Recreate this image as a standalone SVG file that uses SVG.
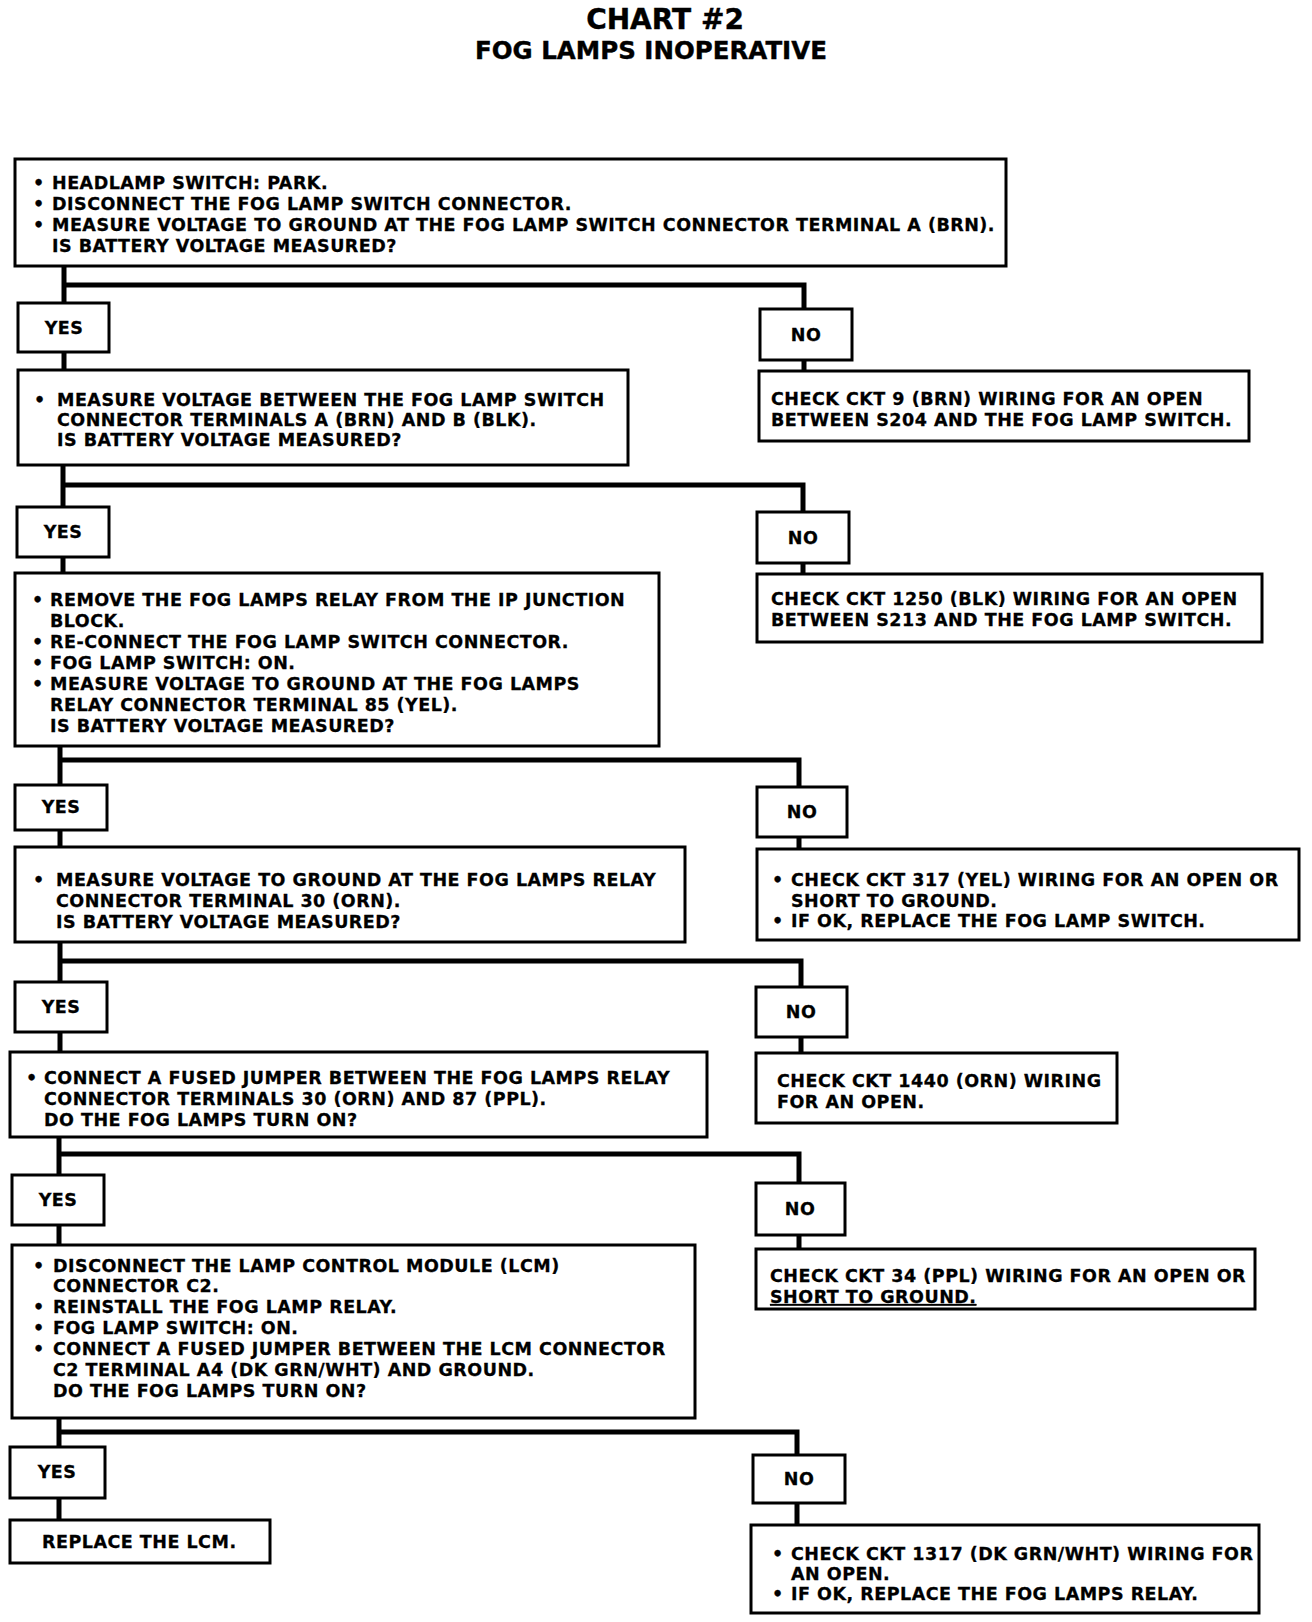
<svg xmlns="http://www.w3.org/2000/svg" width="1312" height="1622" viewBox="0 0 1312 1622">
<style>
.bg{fill:#fff}
.box{fill:#fff;stroke:#000;stroke-width:3}
.conn{fill:none;stroke:#000;stroke-width:5;stroke-linejoin:miter;stroke-linecap:butt}
.t{font-family:"DejaVu Sans","Liberation Sans",Arial,sans-serif;font-weight:bold;font-size:17.5px;letter-spacing:0.5px;fill:#000;stroke:#000;stroke-width:0.3px}
.c{text-anchor:middle}
.h1{font-family:"DejaVu Sans","Liberation Sans",Arial,sans-serif;font-weight:bold;font-size:28px;text-anchor:middle;fill:#000;stroke:#000;stroke-width:0.4px}
.h2{font-family:"DejaVu Sans","Liberation Sans",Arial,sans-serif;font-weight:bold;font-size:24.5px;text-anchor:middle;fill:#000;stroke:#000;stroke-width:0.4px}
</style>
<rect class="bg" x="0" y="0" width="1312" height="1622"/>
<g id="title">
<text class="h1" x="665" y="29">CHART #2</text>
<text class="h2" x="651" y="59">FOG LAMPS INOPERATIVE</text>
</g>
<g id="connectors">
<path class="conn" d="M64 266V303M64 285H804V309M64 352V370M804 360V371"/>
<path class="conn" d="M63 465V507M63 485H803V512M63 557V573M803 563V574"/>
<path class="conn" d="M60 746V785M60 760H799V787M60 830V847M799 837V849"/>
<path class="conn" d="M60 942V982M60 961H801V987M60 1032V1052M801 1037V1053"/>
<path class="conn" d="M59 1137V1175M59 1154H799V1183M59 1225V1245M799 1235V1249"/>
<path class="conn" d="M59 1418V1447M59 1432H797V1455M59 1498V1520M797 1503V1525"/>
</g>
<g id="n1">
<rect class="box" x="15" y="159" width="991" height="107"/>
<text class="t" y="189"><tspan x="33">•</tspan><tspan x="52">HEADLAMP SWITCH: PARK.</tspan></text>
<text class="t" y="210"><tspan x="33">•</tspan><tspan x="52">DISCONNECT THE FOG LAMP SWITCH CONNECTOR.</tspan></text>
<text class="t" y="231"><tspan x="33">•</tspan><tspan x="52">MEASURE VOLTAGE TO GROUND AT THE FOG LAMP SWITCH CONNECTOR TERMINAL A (BRN).</tspan></text>
<text class="t" x="52" y="252">IS BATTERY VOLTAGE MEASURED?</text>
</g>
<g id="yes1"><rect class="box" x="18" y="303" width="91" height="49"/><text class="t c" x="64" y="334">YES</text></g>
<g id="no1"><rect class="box" x="760" y="309" width="92" height="51"/><text class="t c" x="806" y="341">NO</text></g>
<g id="n2">
<rect class="box" x="18" y="370" width="610" height="95"/>
<text class="t" y="406"><tspan x="34">•</tspan><tspan x="57">MEASURE VOLTAGE BETWEEN THE FOG LAMP SWITCH</tspan></text>
<text class="t" x="57" y="426">CONNECTOR TERMINALS A (BRN) AND B (BLK).</text>
<text class="t" x="57" y="446">IS BATTERY VOLTAGE MEASURED?</text>
</g>
<g id="r1">
<rect class="box" x="759" y="371" width="490" height="70"/>
<text class="t" x="771" y="405">CHECK CKT 9 (BRN) WIRING FOR AN OPEN</text>
<text class="t" x="771" y="426">BETWEEN S204 AND THE FOG LAMP SWITCH.</text>
</g>
<g id="yes2"><rect class="box" x="17" y="507" width="92" height="50"/><text class="t c" x="63" y="538">YES</text></g>
<g id="no2"><rect class="box" x="757" y="512" width="92" height="51"/><text class="t c" x="803" y="544">NO</text></g>
<g id="n3">
<rect class="box" x="15" y="573" width="644" height="173"/>
<text class="t" y="606"><tspan x="32">•</tspan><tspan x="50">REMOVE THE FOG LAMPS RELAY FROM THE IP JUNCTION</tspan></text>
<text class="t" x="50" y="627">BLOCK.</text>
<text class="t" y="648"><tspan x="32">•</tspan><tspan x="50">RE-CONNECT THE FOG LAMP SWITCH CONNECTOR.</tspan></text>
<text class="t" y="669"><tspan x="32">•</tspan><tspan x="50">FOG LAMP SWITCH: ON.</tspan></text>
<text class="t" y="690"><tspan x="32">•</tspan><tspan x="50">MEASURE VOLTAGE TO GROUND AT THE FOG LAMPS</tspan></text>
<text class="t" x="50" y="711">RELAY CONNECTOR TERMINAL 85 (YEL).</text>
<text class="t" x="50" y="732">IS BATTERY VOLTAGE MEASURED?</text>
</g>
<g id="r2">
<rect class="box" x="757" y="574" width="505" height="68"/>
<text class="t" x="771" y="605">CHECK CKT 1250 (BLK) WIRING FOR AN OPEN</text>
<text class="t" x="771" y="626">BETWEEN S213 AND THE FOG LAMP SWITCH.</text>
</g>
<g id="yes3"><rect class="box" x="15" y="785" width="92" height="45"/><text class="t c" x="61" y="813">YES</text></g>
<g id="no3"><rect class="box" x="757" y="787" width="90" height="50"/><text class="t c" x="802" y="818">NO</text></g>
<g id="n4">
<rect class="box" x="15" y="847" width="670" height="95"/>
<text class="t" y="886"><tspan x="33">•</tspan><tspan x="56">MEASURE VOLTAGE TO GROUND AT THE FOG LAMPS RELAY</tspan></text>
<text class="t" x="56" y="907">CONNECTOR TERMINAL 30 (ORN).</text>
<text class="t" x="56" y="928">IS BATTERY VOLTAGE MEASURED?</text>
</g>
<g id="r3">
<rect class="box" x="757" y="849" width="542" height="91"/>
<text class="t" y="886"><tspan x="772">•</tspan><tspan x="791">CHECK CKT 317 (YEL) WIRING FOR AN OPEN OR</tspan></text>
<text class="t" x="791" y="907">SHORT TO GROUND.</text>
<text class="t" y="927"><tspan x="772">•</tspan><tspan x="791">IF OK, REPLACE THE FOG LAMP SWITCH.</tspan></text>
</g>
<g id="yes4"><rect class="box" x="15" y="982" width="92" height="50"/><text class="t c" x="61" y="1013">YES</text></g>
<g id="no4"><rect class="box" x="756" y="987" width="91" height="50"/><text class="t c" x="801" y="1018">NO</text></g>
<g id="n5">
<rect class="box" x="10" y="1052" width="697" height="85"/>
<text class="t" y="1084"><tspan x="26">•</tspan><tspan x="44">CONNECT A FUSED JUMPER BETWEEN THE FOG LAMPS RELAY</tspan></text>
<text class="t" x="44" y="1105">CONNECTOR TERMINALS 30 (ORN) AND 87 (PPL).</text>
<text class="t" x="44" y="1126">DO THE FOG LAMPS TURN ON?</text>
</g>
<g id="r4">
<rect class="box" x="756" y="1053" width="361" height="70"/>
<text class="t" x="777" y="1087">CHECK CKT 1440 (ORN) WIRING</text>
<text class="t" x="777" y="1108">FOR AN OPEN.</text>
</g>
<g id="yes5"><rect class="box" x="12" y="1175" width="92" height="50"/><text class="t c" x="58" y="1206">YES</text></g>
<g id="no5"><rect class="box" x="756" y="1183" width="89" height="52"/><text class="t c" x="800" y="1215">NO</text></g>
<g id="n6">
<rect class="box" x="12" y="1245" width="683" height="173"/>
<text class="t" y="1272"><tspan x="33">•</tspan><tspan x="53">DISCONNECT THE LAMP CONTROL MODULE (LCM)</tspan></text>
<text class="t" x="53" y="1292">CONNECTOR C2.</text>
<text class="t" y="1313"><tspan x="33">•</tspan><tspan x="53">REINSTALL THE FOG LAMP RELAY.</tspan></text>
<text class="t" y="1334"><tspan x="33">•</tspan><tspan x="53">FOG LAMP SWITCH: ON.</tspan></text>
<text class="t" y="1355"><tspan x="33">•</tspan><tspan x="53">CONNECT A FUSED JUMPER BETWEEN THE LCM CONNECTOR</tspan></text>
<text class="t" x="53" y="1376">C2 TERMINAL A4 (DK GRN/WHT) AND GROUND.</text>
<text class="t" x="53" y="1397">DO THE FOG LAMPS TURN ON?</text>
</g>
<g id="r5">
<rect class="box" x="756" y="1249" width="499" height="60"/>
<text class="t" x="770" y="1282">CHECK CKT 34 (PPL) WIRING FOR AN OPEN OR</text>
<text class="t" x="770" y="1303" text-decoration="underline">SHORT TO GROUND.</text>
</g>
<g id="yes6"><rect class="box" x="10" y="1447" width="95" height="51"/><text class="t c" x="57" y="1478">YES</text></g>
<g id="no6"><rect class="box" x="753" y="1455" width="92" height="48"/><text class="t c" x="799" y="1485">NO</text></g>
<g id="n7">
<rect class="box" x="10" y="1520" width="260" height="43"/>
<text class="t" x="42" y="1548">REPLACE THE LCM.</text>
</g>
<g id="r6">
<rect class="box" x="751" y="1525" width="508" height="88"/>
<text class="t" y="1560"><tspan x="772">•</tspan><tspan x="791">CHECK CKT 1317 (DK GRN/WHT) WIRING FOR</tspan></text>
<text class="t" x="791" y="1580">AN OPEN.</text>
<text class="t" y="1600"><tspan x="772">•</tspan><tspan x="791">IF OK, REPLACE THE FOG LAMPS RELAY.</tspan></text>
</g>
</svg>
